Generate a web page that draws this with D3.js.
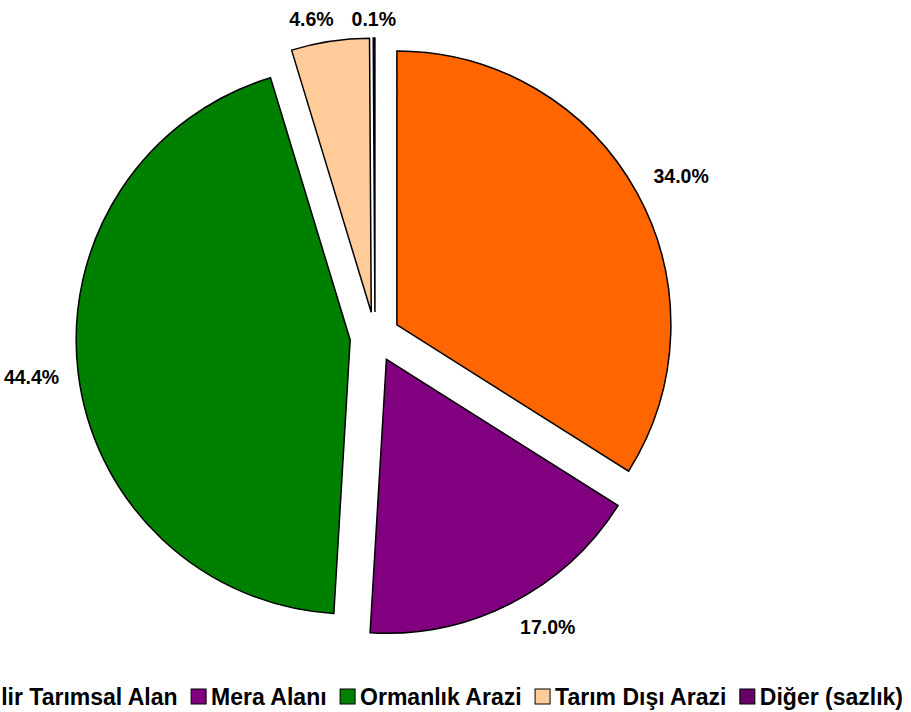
<!DOCTYPE html>
<html lang="tr">
<head>
<meta charset="utf-8">
<style>
  body { margin: 0; background: #fff; }
  svg { display: block; font-family: "Liberation Sans", Arial, sans-serif; font-weight: bold; }
  .slice { stroke: #000; stroke-width: 1.5px; stroke-linejoin: miter; }
  .lbl { font-size: 19.5px; fill: #000; }
  .leg { font-size: 23px; fill: #000; }
</style>
<script src="https://cdn.jsdelivr.net/npm/d3@7"></script>
</head>
<body>
<script>
var categories = ["İşlenebilir Tarımsal Alan", "Mera Alanı", "Ormanlık Arazi", "Tarım Dışı Arazi", "Diğer (sazlık)"];
var shares = [34.0, 17.0, 44.4, 4.6, 0.1];
var colors = ["#FF6600", "#800080", "#008000", "#FFCC99", "#660066"];

var width = 911, height = 712;
var cx = 375, cy = 337, radius = 274, explode = 25, labelRadius = 318;

var svg = d3.select("body").append("svg")
    .attr("width", width)
    .attr("height", height);

var pie = d3.pie().sort(null).value(function(d) { return d; });
var arcs = pie(shares);

var arc = d3.arc().innerRadius(0).outerRadius(radius);

function dir(d) {
  var a = (d.startAngle + d.endAngle) / 2;
  return [Math.sin(a), -Math.cos(a)];
}

var g = svg.append("g").attr("transform", "translate(" + cx + "," + cy + ")");

g.selectAll("path")
  .data(arcs)
  .enter().append("path")
    .attr("class", "slice")
    .attr("d", arc)
    .attr("fill", function(d, i) { return colors[i]; })
    .attr("transform", function(d) {
      var v = dir(d);
      return "translate(" + v[0] * explode + "," + v[1] * explode + ")";
    });

// data labels: the label box sits just outside the pie, its nearest side on the bisector
var labels = g.selectAll("text.lbl")
  .data(arcs)
  .enter().append("text")
    .attr("class", "lbl")
    .attr("text-anchor", "middle")
    .attr("dy", "0.35em")
    .text(function(d) { return d.value.toFixed(1) + "%"; });

var capH = 14;
function f(v) { return Math.max(-1, Math.min(1, v * 3)); }
var pos = [];
labels.each(function(d) {
  var v = dir(d);
  var w = this.getComputedTextLength();
  var x = v[0] * labelRadius + f(v[0]) * w / 2;
  var y = v[1] * labelRadius + f(v[1]) * capH / 2;
  y = Math.max(y, 19 - cy);
  pos.push({ x: x, y: y, w: w });
});
for (var k = 0; k < 3; k++) {
  for (var i = 0; i < pos.length; i++) {
    for (var j = 0; j < pos.length; j++) {
      if (i === j) continue;
      var a = pos[i], b = pos[j];
      if (Math.abs(a.y - b.y) < 16 && a.x < b.x) {
        var overlap = (a.x + a.w / 2 + 18) - (b.x - b.w / 2);
        if (overlap > 0) a.x -= overlap;
      }
    }
  }
}
labels.attr("x", function(d, i) { return pos[i].x; })
      .attr("y", function(d, i) { return pos[i].y; });

// legend, laid out from the right edge (first entry runs off the left side, as in the original)
var items = svg.append("g").selectAll("g")
  .data(categories)
  .enter().append("g");

items.append("rect")
  .attr("width", 15).attr("height", 15)
  .attr("y", 689)
  .attr("fill", function(d, i) { return colors[i]; })
  .attr("stroke", "#000").attr("stroke-width", 1);

items.append("text")
  .attr("class", "leg")
  .attr("y", 704.5)
  .text(function(d) { return d; });

var widths = [];
items.select("text").each(function() { widths.push(this.getComputedTextLength()); });
var xEnd = 903, xs = [];
for (var n = categories.length - 1; n >= 0; n--) {
  xs[n] = xEnd - widths[n] - 20;
  xEnd = xs[n] - 13.5;
}
items.select("rect").attr("x", function(d, i) { return xs[i]; });
items.select("text").attr("x", function(d, i) { return xs[i] + 20; });
</script>
</body>
</html>
